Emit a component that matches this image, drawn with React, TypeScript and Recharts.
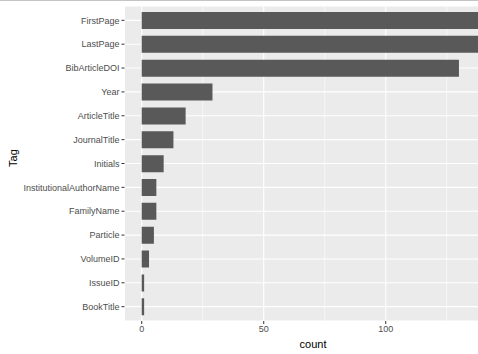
import React from "react";
import { Bar, BarChart, CartesianGrid, XAxis, YAxis } from "recharts";

const tags = [
  "FirstPage",
  "LastPage",
  "BibArticleDOI",
  "Year",
  "ArticleTitle",
  "JournalTitle",
  "Initials",
  "InstitutionalAuthorName",
  "FamilyName",
  "Particle",
  "VolumeID",
  "IssueID",
  "BookTitle"
];
const counts = [141, 141, 130, 29, 18, 13, 9, 6, 6, 5, 3, 1, 1];
const majorTicks = [0, 50, 100];
const minorTicks = [25, 75, 125];

const maxCount = Math.max(...counts);
// ggplot-style 5% expansion on both sides
const xDomain = [-0.05 * maxCount, 1.05 * maxCount];

const font = "'Liberation Sans', Arial, sans-serif";

export default function App(): React.JSX.Element {
  const data = tags.map((tag, i) => ({ tag, count: counts[i] }));

  return (
    <div
      style={{
        position: "absolute",
        left: 0,
        top: 0,
        width: 478,
        height: 354,
        overflow: "hidden",
        background: "#ffffff",
        fontFamily: font,
        borderTop: "1px solid #c4c4c4",
        boxSizing: "border-box"
      }}
    >
      <div
        style={{
          position: "absolute",
          left: 6,
          top: 157,
          transform: "translate(-50%, -50%) rotate(-90deg)",
          transformOrigin: "center",
          fontSize: 11,
          color: "#000",
          marginLeft: 7
        }}
      >
        Tag
      </div>
      <div
        style={{
          position: "absolute",
          left: 313,
          top: 337,
          transform: "translateX(-50%)",
          fontSize: 11,
          color: "#000"
        }}
      >
        count
      </div>
      <div style={{ position: "absolute", left: 0, top: -1 }}>
        <BarChart
          width={503}
          height={354}
          data={data}
          layout="vertical"
          margin={{ top: 6, right: 0, left: 0, bottom: 0 }}
          barCategoryGap="15%"
        >
          <CartesianGrid
            xAxisId="minor"
            horizontal={false}
            stroke="#ffffff"
            strokeWidth={0.6}
            fill="#ebebeb"
          />
          <CartesianGrid stroke="#ffffff" strokeWidth={1.1} />
          <XAxis
            type="number"
            dataKey="count"
            domain={xDomain}
            ticks={majorTicks}
            allowDataOverflow
            height={33}
            tickSize={3}
            tickMargin={2}
            tick={{ fontSize: 9, fill: "#4d4d4d", fontFamily: font }}
            tickLine={{ stroke: "#333333" }}
            axisLine={false}
          />
          <XAxis
            xAxisId="minor"
            type="number"
            domain={xDomain}
            ticks={minorTicks}
            allowDataOverflow
            hide
          />
          <YAxis
            type="category"
            dataKey="tag"
            width={124.5}
            padding={{ top: 2.4, bottom: 2.4 }}
            tickSize={3}
            tickMargin={2}
            tick={{ fontSize: 9, fill: "#4d4d4d", fontFamily: font }}
            tickLine={{ stroke: "#333333" }}
            axisLine={false}
            interval={0}
          />
          <Bar dataKey="count" fill="#595959" isAnimationActive={false} />
        </BarChart>
      </div>
    </div>
  );
}
